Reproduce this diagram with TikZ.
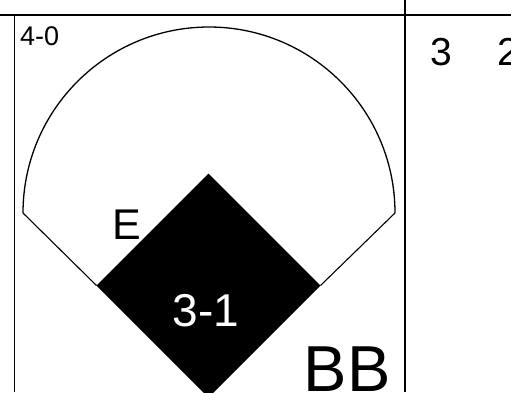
\documentclass[tikz,border=0pt]{standalone}
\usepackage{fontspec}
\setmainfont{Liberation Sans}
\begin{document}
\begin{tikzpicture}[x=1pt,y=-1pt,
  frame/.style={line width=1.6pt},
  field/.style={line width=1.3pt},
  foul/.style={line width=1.1pt},
  lbl/.style={inner sep=0pt, anchor=base west}]
\useasboundingbox (0,0) rectangle (511,392);
% frame
\draw[frame] (0,15) -- (511,15);
\draw[frame] (14.5,15) -- (14.5,392);
\draw[frame] (405,0) -- (405,392);
% diamond
\coordinate (home) at (208.5,397.5);
\coordinate (first) at (320.5,285.5);
\coordinate (second) at (208.5,173.5);
\coordinate (third) at (96.5,285.5);
\fill (second) -- (first) -- (home) -- (third) -- cycle;
% outfield
\coordinate (lf) at (23,213);
\coordinate (rf) at (395,213);
\draw[field] (lf) arc[start angle=180, end angle=360, radius=186];
\draw[foul] (lf) -- (third);
\draw[foul] (rf) -- (first);
% texts
\node[lbl, font=\fontsize{27}{27}\selectfont] (count) at (20,45) {4-0};
\node[lbl, font=\fontsize{39}{39}\selectfont] (a) at (430,65) {3};
\node[lbl, font=\fontsize{39}{39}\selectfont] (b) at (497,65) {2};
\node[lbl, font=\fontsize{43}{43}\selectfont] (err) at (112.5,239.3) {E};
\node[lbl, text=white, font=\fontsize{46}{46}\selectfont] (runs) at (172.5,326) {3-1};
\node[lbl, font=\fontsize{65}{65}\selectfont] (bb) at (303.5,391.7) {BB};
\end{tikzpicture}
\end{document}
